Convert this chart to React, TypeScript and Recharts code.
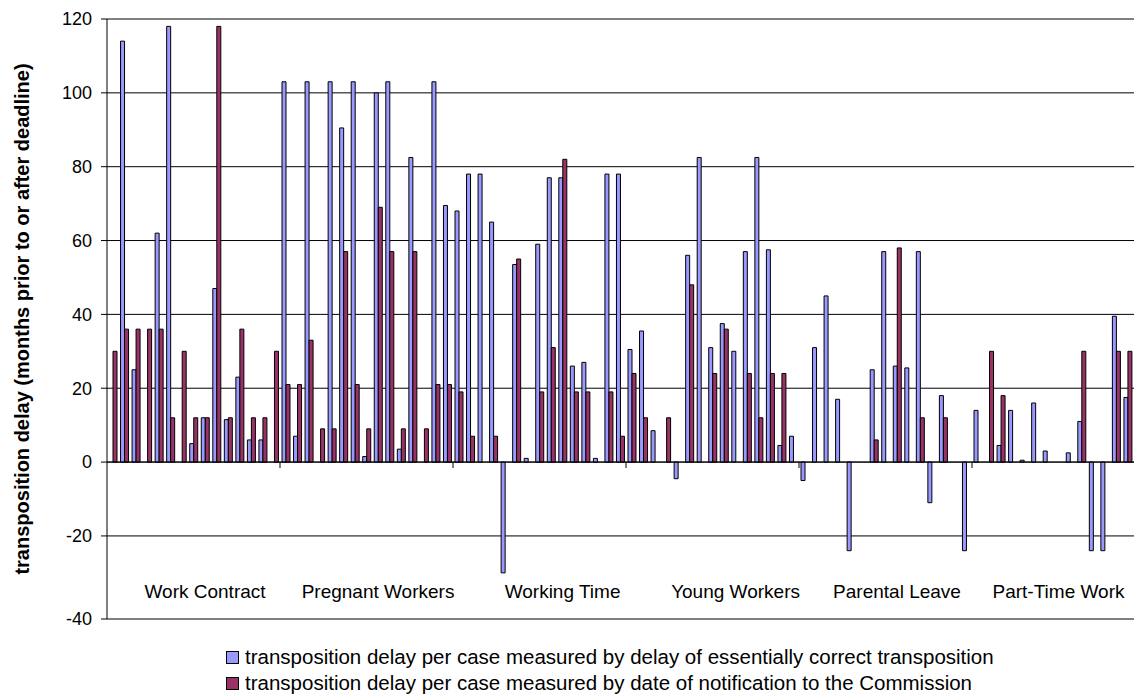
import React from 'react';
import { BarChart, Bar, XAxis, YAxis, CartesianGrid, ReferenceLine } from 'recharts';

const GROUPS = ['Work Contract', 'Pregnant Workers', 'Working Time', 'Young Workers', 'Parental Leave', 'Part-Time Work'];
const COUNTRIES = ['B', 'DK', 'D', 'EL', 'E', 'F', 'IRL', 'I', 'L', 'NL', 'A', 'P', 'FIN', 'S', 'UK'];
// row of each directive that carries its name on the category axis
const LABEL_ROW = [8, 8, 9, 9, 8, 7];

// months, delay of essentially correct transposition (15 member states per directive)
const CORRECT: (number | null)[] = [
  null, 114, 25, null, 62, 118, null, 5, 12, 47, 11.5, 23, 6, 6, null, // Work Contract
  103, 7, 103, null, 103, 90.5, 103, 1.5, 100, 103, 3.5, 82.5, null, 103, 69.5, // Pregnant Workers
  68, 78, 78, 65, -30, 53.5, 1, 59, 77, 77, 26, 27, 1, 78, 78, // Working Time
  30.5, 35.5, 8.5, null, -4.5, 56, 82.5, 31, 37.5, 30, 57, 82.5, 57.5, 4.5, 7, // Young Workers
  -5, 31, 45, 17, -24, null, 25, 57, 26, 25.5, 57, -11, 18, null, -24, // Parental Leave
  14, null, 4.5, 14, 0.5, 16, 3, null, 2.5, 11, -24, -24, 39.5, 17.5, null, // Part-Time Work
];

// months, delay by date of notification to the Commission
const NOTIFIED: (number | null)[] = [
  30, 36, 36, 36, 36, 12, 30, 12, 12, 118, 12, 36, 12, 12, 30,
  21, 21, 33, 9, 9, 57, 21, 9, 69, 57, 9, 57, 9, 21, 21,
  19, 7, null, 7, null, 55, null, 19, 31, 82, 19, 19, null, 19, 7,
  24, 12, null, 12, null, 48, null, 24, 36, null, 24, 12, 24, 24, null,
  null, null, null, null, null, null, 6, null, 58, null, 12, null, 12, null, null,
  null, 30, 18, null, null, null, null, null, null, 30, null, null, 30, 30, null,
];

const Y_MIN = -42.5;
const Y_TICKS = [Y_MIN, -20, 0, 20, 40, 60, 80, 100, 120];

const SERIES_NAMES = [
  'transposition delay per case measured by delay of essentially correct transposition',
  'transposition delay per case measured by date of notification to the Commission',
];
const BLUE = '#9999FF';
const RED = '#993366';

const data = GROUPS.flatMap((g, gi) =>
  COUNTRIES.map((c, ci) => ({
    id: `${g}|${c}`,
    group: g,
    correct: CORRECT[gi * 15 + ci],
    notified: NOTIFIED[gi * 15 + ci],
  }))
);

const labelTicks = GROUPS.map((g, gi) => `${g}|${COUNTRIES[LABEL_ROW[gi]]}`);
const groupStarts = GROUPS.slice(1).map((g) => `${g}|${COUNTRIES[0]}`);

const FONT = '"Liberation Sans", Arial, sans-serif';

export default function App() {
  return (
    <div style={{ position: 'fixed', left: 0, top: 0, width: 1134, height: 697, overflow: 'hidden', background: '#fff', fontFamily: FONT }}>
      <BarChart
        width={1160}
        height={697}
        data={data}
        margin={{ top: 19, right: 15, bottom: 77, left: 0 }}
        barCategoryGap={2}
        barGap={0}
      >
        <CartesianGrid horizontal vertical={false} stroke="#000" />
        <XAxis
          dataKey="id"
          height={1}
          ticks={labelTicks}
          interval={0}
          axisLine={false}
          tickLine={false}
          tickSize={0}
          tickMargin={0}
          tickFormatter={(v: string) => v.split('|')[0]}
          tick={{ fontSize: 19, fill: '#000', fontFamily: FONT, dy: -34 }}
        />
        <YAxis
          width={107}
          domain={[Y_MIN, 120]}
          ticks={Y_TICKS}
          interval={0}
          allowDataOverflow
          stroke="#000"
          tickSize={6}
          tickMargin={9}
          tickFormatter={(v: number) => (v === Y_MIN ? '-40' : String(v))}
          tick={{ fontSize: 18, fill: '#000', fontFamily: FONT }}
          label={{
            value: 'transposition delay (months prior to or after deadline)',
            angle: -90,
            position: 'insideLeft',
            offset: 22,
            style: { textAnchor: 'middle', fontSize: 20, fontWeight: 'bold', fill: '#000', fontFamily: FONT },
          }}
        />
        <ReferenceLine y={0} stroke="#000" />
        {groupStarts.map((id) => (
          <ReferenceLine
            key={id}
            position="start"
            segment={[{ x: id, y: 0 }, { x: id, y: -1.6 }]}
            stroke="#000"
          />
        ))}
        <Bar dataKey="correct" fill={BLUE} stroke="#000" strokeWidth={1} isAnimationActive={false} />
        <Bar dataKey="notified" fill={RED} stroke="#000" strokeWidth={1} isAnimationActive={false} />
      </BarChart>

      <div style={{ position: 'absolute', left: 226, top: 644, fontSize: 20.5, lineHeight: '26px', color: '#000' }}>
        {SERIES_NAMES.map((name, i) => (
          <div key={name} style={{ display: 'flex', alignItems: 'center', whiteSpace: 'nowrap' }}>
            <span style={{ width: 11, height: 11, border: '1px solid #000', background: i === 0 ? BLUE : RED, marginRight: 6, display: 'inline-block' }} />
            {name}
          </div>
        ))}
      </div>
    </div>
  );
}
